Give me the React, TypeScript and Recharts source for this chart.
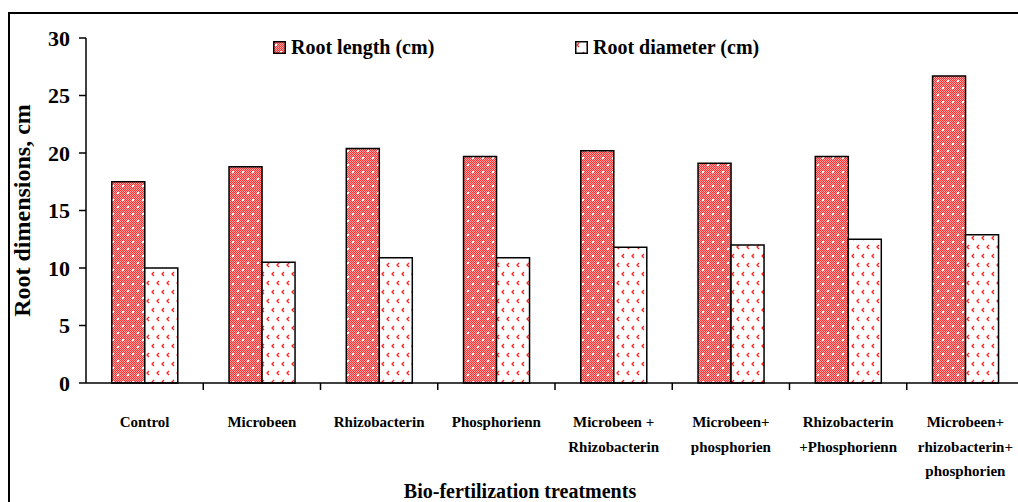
import { Bar, BarChart, Label, Legend, XAxis, YAxis } from "recharts";

const categories = [
  "Control",
  "Microbeen",
  "Rhizobacterin",
  "Phosphorienn",
  "Microbeen +\nRhizobacterin",
  "Microbeen+\nphosphorien",
  "Rhizobacterin\n+Phosphorienn",
  "Microbeen+\nrhizobacterin+\nphosphorien",
];
const rootLength = [17.5, 18.8, 20.4, 19.7, 20.2, 19.1, 19.7, 26.7];
const rootDiameter = [10.0, 10.5, 10.9, 10.9, 11.8, 12.0, 12.5, 12.9];
const yTicks = [0, 5, 10, 15, 20, 25, 30];

const data = categories.map((name, i) => ({
  name,
  length: rootLength[i],
  diameter: rootDiameter[i],
}));

const SERIF = '"Liberation Serif", "Times New Roman", serif';

function Patterns({ prefix }: { prefix: string }) {
  return (
    <defs>
      <pattern id={`${prefix}-check`} width="2" height="2" patternUnits="userSpaceOnUse">
        <rect width="2" height="2" fill="#ffa4a4" />
        <rect x="0" y="0" width="1" height="1" fill="#ff3030" />
        <rect x="1" y="1" width="1" height="1" fill="#ff3030" />
      </pattern>
      <pattern id={`${prefix}-red`} width="10" height="14" patternUnits="userSpaceOnUse">
        <rect width="10" height="14" fill={`url(#${prefix}-check)`} />
        <rect x="2" y="3" width="2" height="2" fill="#fff" />
        <rect x="7" y="10" width="2" height="2" fill="#fff" />
      </pattern>
      <pattern id={`${prefix}-white`} width="10" height="18" patternUnits="userSpaceOnUse">
        <rect width="10" height="18" fill="#fff" />
        <polyline points="4,2 2,4 4,6" fill="none" stroke="#ff2020" strokeWidth="1.3" />
        <polyline points="9,11 7,13 9,15" fill="none" stroke="#ff2020" strokeWidth="1.3" />
      </pattern>
    </defs>
  );
}

function CatTick(props: any) {
  const { x, y, payload } = props;
  const lines = String(payload.value).split("\n");
  const off = payload.offset ?? 0;
  return (
    <g>
      <line x1={x + off} x2={x + off} y1={y} y2={y + 7} stroke="#000" strokeWidth={1.5} />
      <text
        x={x}
        y={y + 44}
        textAnchor="middle"
        fontFamily={SERIF}
        fontWeight="bold"
        fontSize={15}
        fill="#000"
      >
        {lines.map((l, i) => (
          <tspan key={i} x={x} dy={i === 0 ? 0 : 24.5}>
            {l}
          </tspan>
        ))}
      </text>
    </g>
  );
}

function LegendBox() {
  const item = (left: number, pat: string, text: string) => (
    <div style={{ position: "absolute", left, top: 0, height: 30, display: "flex", alignItems: "center" }}>
      <svg width="13" height="13" style={{ marginRight: 5 }}>
        <Patterns prefix={`lg-${pat}`} />
        <rect x="0.75" y="0.75" width="11.5" height="11.5" fill={`url(#lg-${pat}-${pat})`} stroke="#000" strokeWidth={1.5} />
      </svg>
      <span style={{ fontFamily: SERIF, fontWeight: "bold", fontSize: 20, color: "#000", whiteSpace: "nowrap" }}>{text}</span>
    </div>
  );
  return (
    <div style={{ position: "relative", height: 30, width: 1040 }}>
      {item(273, "red", "Root length (cm)")}
      {item(575, "white", "Root diameter (cm)")}
    </div>
  );
}

export default function App() {
  return (
    <div style={{ position: "fixed", left: 0, top: 0, width: 1018, height: 502, overflow: "hidden", background: "#fff" }}>
      <div
        style={{
          position: "absolute",
          left: 8,
          top: 12,
          width: 1100,
          height: 600,
          border: "2px solid #000",
        }}
      />
      <div style={{ position: "absolute", left: 0, top: 0 }}>
        <BarChart
          width={1040}
          height={502}
          data={data}
          margin={{ top: 8, right: 16, bottom: 0, left: 0 }}
          barCategoryGap="22%"
          barGap={0}
        >
          <Patterns prefix="bar" />
          <XAxis
            dataKey="name"
            height={119}
            interval={0}
            tickSize={0}
            tickMargin={0}
            tick={<CatTick />}
            axisLine={{ stroke: "#000", strokeWidth: 1.5 }}
          >
            <Label
              content={() => (
                <text x={520} y={498} textAnchor="middle" fontFamily={SERIF} fontWeight="bold" fontSize={20} fill="#000">
                  Bio-fertilization treatments
                </text>
              )}
            />
          </XAxis>
          <YAxis
            width={86}
            domain={[0, 30]}
            ticks={yTicks}
            interval={0}
            tickSize={7}
            tickMargin={9}
            axisLine={{ stroke: "#000", strokeWidth: 1.5 }}
            tickLine={{ stroke: "#000", strokeWidth: 1.5 }}
            tick={{ fontFamily: SERIF, fontWeight: "bold", fontSize: 22, fill: "#000" }}
          >
            <Label
              content={(p: any) => {
                const vb = p.viewBox;
                const cy = vb.y + vb.height / 2;
                return (
                  <text
                    x={0}
                    y={0}
                    transform={`translate(30, ${cy}) rotate(-90)`}
                    textAnchor="middle"
                    fontFamily={SERIF}
                    fontWeight="bold"
                    fontSize={24}
                    fill="#000"
                  >
                    Root dimensions, cm
                  </text>
                );
              }}
            />
          </YAxis>
          <Legend verticalAlign="top" content={() => <LegendBox />} wrapperStyle={{ top: 32, left: 0, width: 1040, height: 30 }} />
          <Bar dataKey="length" name="Root length (cm)" fill="url(#bar-red)" stroke="#000" strokeWidth={1.5} isAnimationActive={false} />
          <Bar dataKey="diameter" name="Root diameter (cm)" fill="url(#bar-white)" stroke="#000" strokeWidth={1.5} isAnimationActive={false} />
        </BarChart>
      </div>
    </div>
  );
}
